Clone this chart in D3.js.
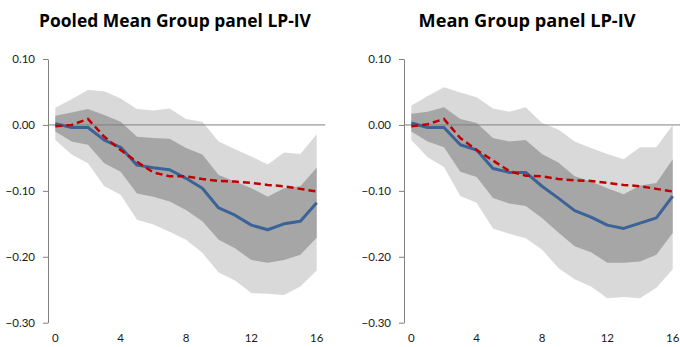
<!DOCTYPE html>
<html>
<head>
<meta charset="utf-8">
<script src="https://cdn.jsdelivr.net/npm/d3@7"></script>
<style>
  body { margin: 0; background: #fff; }
  svg { display: block; font-family: Lato, "Open Sans", sans-serif; }
</style>
</head>
<body>
<div id="chart"></div>
<script>
// horizons 0..16
var horizons = d3.range(0, 17);
var xTicks = [0, 4, 8, 12, 16];
var yTicks = [0.10, 0.00, -0.10, -0.20, -0.30];

// Pooled Mean Group panel LP-IV
var pmgIrf     = [0.002, -0.004, -0.004, -0.023, -0.034, -0.061, -0.065, -0.068, -0.081, -0.096, -0.126, -0.137, -0.152, -0.159, -0.150, -0.146, -0.118];
var pmgBench   = [-0.002, 0.000, 0.009, -0.018, -0.038, -0.056, -0.072, -0.078, -0.078, -0.082, -0.085, -0.086, -0.088, -0.091, -0.093, -0.097, -0.101];
var pmgHi68    = [0.014, 0.019, 0.024, 0.015, 0.005, -0.018, -0.020, -0.021, -0.035, -0.045, -0.076, -0.086, -0.096, -0.109, -0.096, -0.093, -0.065];
var pmgLo68    = [-0.010, -0.025, -0.030, -0.058, -0.071, -0.104, -0.109, -0.116, -0.129, -0.146, -0.174, -0.187, -0.205, -0.209, -0.205, -0.197, -0.171];
var pmgHi90    = [0.026, 0.039, 0.053, 0.051, 0.040, 0.024, 0.022, 0.025, 0.009, 0.005, -0.025, -0.037, -0.048, -0.060, -0.042, -0.044, -0.014];
var pmgLo90    = [-0.023, -0.045, -0.058, -0.093, -0.106, -0.144, -0.151, -0.162, -0.174, -0.194, -0.224, -0.236, -0.255, -0.256, -0.258, -0.245, -0.221];

// Mean Group panel LP-IV
var mgIrf      = [0.003, -0.004, -0.004, -0.030, -0.038, -0.066, -0.072, -0.072, -0.093, -0.111, -0.130, -0.140, -0.152, -0.157, -0.149, -0.141, -0.108];
var mgBench    = [-0.002, 0.001, 0.009, -0.020, -0.038, -0.054, -0.070, -0.077, -0.078, -0.082, -0.084, -0.085, -0.088, -0.091, -0.093, -0.097, -0.101];
var mgHi68     = [0.017, 0.020, 0.027, 0.009, 0.003, -0.020, -0.025, -0.023, -0.044, -0.057, -0.078, -0.086, -0.096, -0.105, -0.092, -0.088, -0.052];
var mgLo68     = [-0.010, -0.025, -0.034, -0.071, -0.079, -0.111, -0.119, -0.123, -0.141, -0.163, -0.184, -0.193, -0.209, -0.209, -0.207, -0.197, -0.164];
var mgHi90     = [0.029, 0.044, 0.057, 0.049, 0.042, 0.025, 0.020, 0.027, 0.003, -0.007, -0.025, -0.035, -0.044, -0.052, -0.034, -0.034, 0.000];
var mgLo90     = [-0.023, -0.049, -0.064, -0.108, -0.118, -0.157, -0.165, -0.172, -0.189, -0.217, -0.234, -0.245, -0.263, -0.261, -0.263, -0.247, -0.219];

var width = 680, height = 347;

var svg = d3.select("#chart")
    .append("svg")
    .attr("width", width)
    .attr("height", height);

var y = d3.scaleLinear()
    .domain([-0.30, 0.10])
    .range([322.7, 59]);

function drawPanel(left, title, titleX, titleW, irf, bench, hi68, lo68, hi90, lo90) {
    var axisX = left + 48;
    var x = d3.scaleLinear()
        .domain([0, 16])
        .range([left + 55.3, left + 316.7]);

    var g = svg.append("g");

    var band = function(lo, hi) {
        return d3.area()
            .x(function(d) { return x(d); })
            .y0(function(d) { return y(lo[d]); })
            .y1(function(d) { return y(hi[d]); });
    };

    g.append("path")
        .attr("d", band(lo90, hi90)(horizons))
        .style("fill", "#d9d9d9");
    g.append("path")
        .attr("d", band(lo68, hi68)(horizons))
        .style("fill", "#a6a6a6");

    // zero line
    g.append("line")
        .attr("x1", axisX)
        .attr("x2", x(16) + 8.5)
        .attr("y1", y(0))
        .attr("y2", y(0))
        .style("stroke", "#808080")
        .style("stroke-width", 1);

    // y axis
    var yAxis = g.append("g")
        .attr("transform", "translate(" + axisX + ",0)")
        .call(d3.axisLeft(y).tickValues(yTicks).tickSize(5).tickSizeOuter(0)
            .tickFormat(d3.format(".2f")));
    yAxis.select(".domain").style("stroke", "#808080");
    yAxis.selectAll(".tick line").style("stroke", "#808080");
    yAxis.selectAll(".tick text")
        .attr("x", -13)
        .style("font-size", "11.5px")
        .style("fill", "#1a1a1a")
        .style("font-family", "Lato, sans-serif");

    // x tick labels (no axis line)
    g.selectAll(".xlab")
        .data(xTicks)
        .enter()
        .append("text")
        .attr("x", function(d) { return x(d); })
        .attr("y", 342)
        .style("text-anchor", "middle")
        .style("font-size", "11.5px")
        .style("fill", "#1a1a1a")
        .text(function(d) { return d; });

    var line = function(vals) {
        return d3.line()
            .x(function(d) { return x(d); })
            .y(function(d) { return y(vals[d]); });
    };

    g.append("path")
        .attr("d", line(irf)(horizons))
        .style("fill", "none")
        .style("stroke", "#3b6398")
        .style("stroke-width", 3)
        .style("stroke-linejoin", "round");

    g.append("path")
        .attr("d", line(bench)(horizons))
        .style("fill", "none")
        .style("stroke", "#c00000")
        .style("stroke-width", 2.5)
        .style("stroke-dasharray", "7,4");

    var t = g.append("text")
        .attr("x", titleX)
        .attr("y", 27)
        .style("text-anchor", "middle")
        .style("font-family", "'Open Sans', sans-serif")
        .style("font-weight", "bold")
        .style("font-size", "17px")
        .style("fill", "#000")
        .text(title);
    // scale font so the title spans the same width as in the original
    var w = t.node().getComputedTextLength();
    t.style("font-size", (17 * titleW / w) + "px");
}

drawPanel(0, "Pooled Mean Group panel LP-IV", 175, 272, pmgIrf, pmgBench, pmgHi68, pmgLo68, pmgHi90, pmgLo90);
drawPanel(356, "Mean Group panel LP-IV", 527, 217, mgIrf, mgBench, mgHi68, mgLo68, mgHi90, mgLo90);
</script>
</body>
</html>
